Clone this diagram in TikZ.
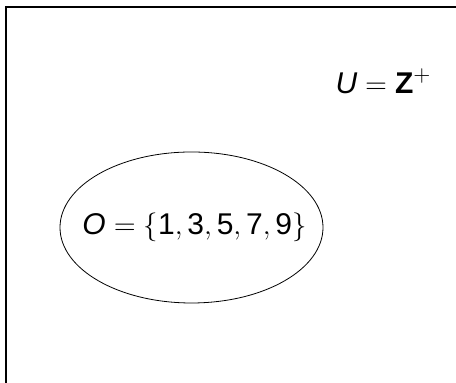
\documentclass[tikz,border=0pt]{standalone}
\usepackage{fontspec}
\setmainfont{Liberation Sans}
\usetikzlibrary{shapes.geometric}
\begin{document}
\begin{tikzpicture}[x=0.5pt,y=-0.5pt,
  lbl/.style={font=\fontsize{15}{18}\selectfont, inner sep=0pt},
  setshape/.style={draw, ellipse, line width=0.4pt, minimum width=131.5pt, minimum height=75.5pt, inner sep=0pt}]
\useasboundingbox (0,0) rectangle (456,383);
\clip (0,0) rectangle (456,383);
\draw[line width=0.6pt] (6,7) rectangle (480,410);
\node[lbl, anchor=base] (U) at (383.5,94) {$\mbox{\itshape U} = \mbox{\bfseries Z}^{+}$};
\node[setshape] (O) at (191.5,227.5) {};
\node[lbl] (Olbl) at ([xshift=1.5pt]O.center) {$\mbox{\itshape O} = \{\mbox{1}, \mbox{3}, \mbox{5}, \mbox{7}, \mbox{9}\}$};
\end{tikzpicture}
\end{document}
